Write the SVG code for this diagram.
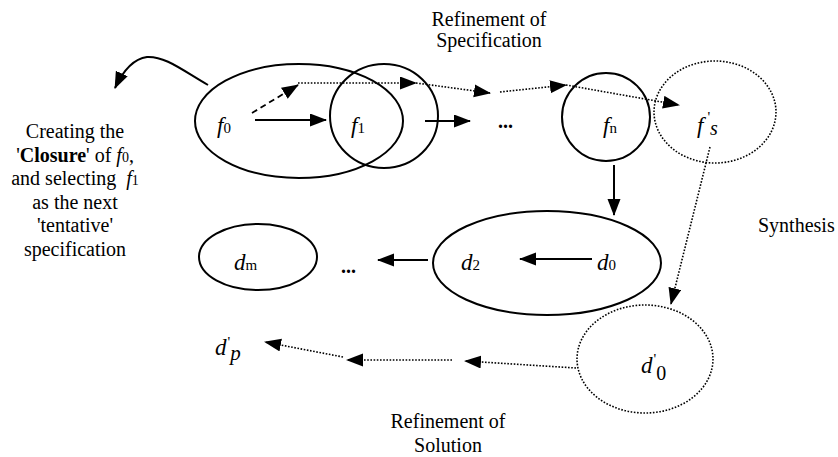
<svg xmlns="http://www.w3.org/2000/svg" width="838" height="457" viewBox="0 0 838 457">
<style>
text{font-family:'Liberation Serif',Tinos,'Times New Roman',Times,'Noto Serif','DejaVu Serif',FreeSerif,serif;fill:#000}
.lbl{font-size:20px}
.m{font-size:23px;font-style:italic}
.sub{font-size:15px;font-style:normal}
.pr{font-size:15px;font-style:normal}
.node{fill:none;stroke:#000;stroke-width:2}
.dot{fill:none;stroke:#000;stroke-width:1.6;stroke-dasharray:1.6 1.6}
.solid{fill:none;stroke:#000;stroke-width:2}
.dash{fill:none;stroke:#000;stroke-width:1.8;stroke-dasharray:6 4}
.dl{fill:none;stroke:#000;stroke-width:1.6;stroke-dasharray:1.6 1.6}
</style>
<defs>
<marker id="ah" markerUnits="userSpaceOnUse" markerWidth="18" markerHeight="14" refX="16" refY="6.5" orient="auto">
<path d="M0,0 L17,6.5 L0,13 z" fill="#000"/>
</marker>
</defs>
<rect width="838" height="457" fill="#fff"/>

<g id="connectors">
<path class="solid" d="M208,85 C182,70 165,56 147,57 C132,59 122,73 115,88" marker-end="url(#ah)"/>
<path class="dash" d="M252,113 L298,85" marker-end="url(#ah)"/>
<path class="solid" d="M255,120 L326,120" marker-end="url(#ah)"/>
<path class="dl" d="M298,83 L416,83" marker-end="url(#ah)"/>
<path class="dl" d="M416,83 L490,93" marker-end="url(#ah)"/>
<path class="solid" d="M425,121 L470,121" marker-end="url(#ah)"/>
<path class="dl" d="M500,92 L566,85" marker-end="url(#ah)"/>
<path class="dl" d="M566,85 L679,105" marker-end="url(#ah)"/>
<path class="solid" d="M614,165 L614,215" marker-end="url(#ah)"/>
<path class="solid" d="M592,259 L520,259" marker-end="url(#ah)"/>
<path class="solid" d="M428,260 L378,260" marker-end="url(#ah)"/>
<path class="dl" d="M710,147 L671,304" marker-end="url(#ah)"/>
<path class="dl" d="M576,368 L465,361" marker-end="url(#ah)"/>
<path class="dl" d="M452,360 L347,360" marker-end="url(#ah)"/>
<path class="dl" d="M343,357 L265,342" marker-end="url(#ah)"/>
</g>

<g id="f0">
<ellipse class="node" cx="299" cy="121" rx="104" ry="57"/>
<text class="m" x="217" y="133">f<tspan class="sub">0</tspan></text>
</g>
<g id="f1">
<ellipse class="node" cx="384" cy="116" rx="54" ry="52"/>
<text class="m" x="351" y="133">f<tspan class="sub">1</tspan></text>
</g>
<g id="dots1">
<text class="lbl" x="498" y="128" font-weight="bold">...</text>
</g>
<g id="fn">
<ellipse class="node" cx="606" cy="117" rx="44" ry="44"/>
<text class="m" x="603" y="133">f<tspan class="sub">n</tspan></text>
</g>
<g id="fs">
<ellipse class="dot" cx="715" cy="112" rx="61" ry="51"/>
<text class="m" x="697" y="133">f<tspan class="pr" dx="4" dy="-11">'</tspan><tspan dx="0" dy="13" style="font-size:20px">s</tspan></text>
</g>
<g id="d">
<ellipse class="node" cx="547" cy="263" rx="114" ry="52"/>
<text class="m" x="461" y="270">d<tspan class="sub">2</tspan></text>
<text class="m" x="597" y="270">d<tspan class="sub">0</tspan></text>
</g>
<g id="dots2">
<text class="lbl" x="341" y="273" font-weight="bold">...</text>
</g>
<g id="dm">
<ellipse class="node" cx="258" cy="257" rx="59" ry="33"/>
<text class="m" x="234" y="270">d<tspan class="sub">m</tspan></text>
</g>
<g id="d0p">
<ellipse class="dot" cx="645" cy="359" rx="68" ry="54"/>
<text class="m" x="641" y="373">d<tspan class="pr" dx="1" dy="-9">'</tspan><tspan dy="16" style="font-size:20px;font-style:normal">0</tspan></text>
</g>
<g id="dp">
<text class="m" x="215" y="355">d<tspan class="pr" dx="1" dy="-8">'</tspan><tspan dy="13" style="font-size:21px">p</tspan></text>
</g>

<g id="labels">
<text class="lbl" text-anchor="middle" x="489" y="26">Refinement of</text>
<text class="lbl" text-anchor="middle" x="489" y="47">Specification</text>
<text class="lbl" x="758" y="232">Synthesis</text>
<text class="lbl" text-anchor="middle" x="448" y="428">Refinement of</text>
<text class="lbl" text-anchor="middle" x="448" y="452">Solution</text>
<text class="lbl" text-anchor="middle" x="75" y="138">Creating the</text>
<text class="lbl" text-anchor="middle" x="75" y="162">'<tspan font-weight="bold">Closure</tspan>' of <tspan font-style="italic">f</tspan><tspan font-size="14">0</tspan>,</text>
<text class="lbl" text-anchor="middle" x="75" y="185" xml:space="preserve">and selecting  <tspan font-style="italic">f</tspan><tspan font-size="14">1</tspan></text>
<text class="lbl" text-anchor="middle" x="75" y="209">as the next</text>
<text class="lbl" text-anchor="middle" x="75" y="232">'tentative'</text>
<text class="lbl" text-anchor="middle" x="75" y="256">specification</text>
</g>
</svg>
